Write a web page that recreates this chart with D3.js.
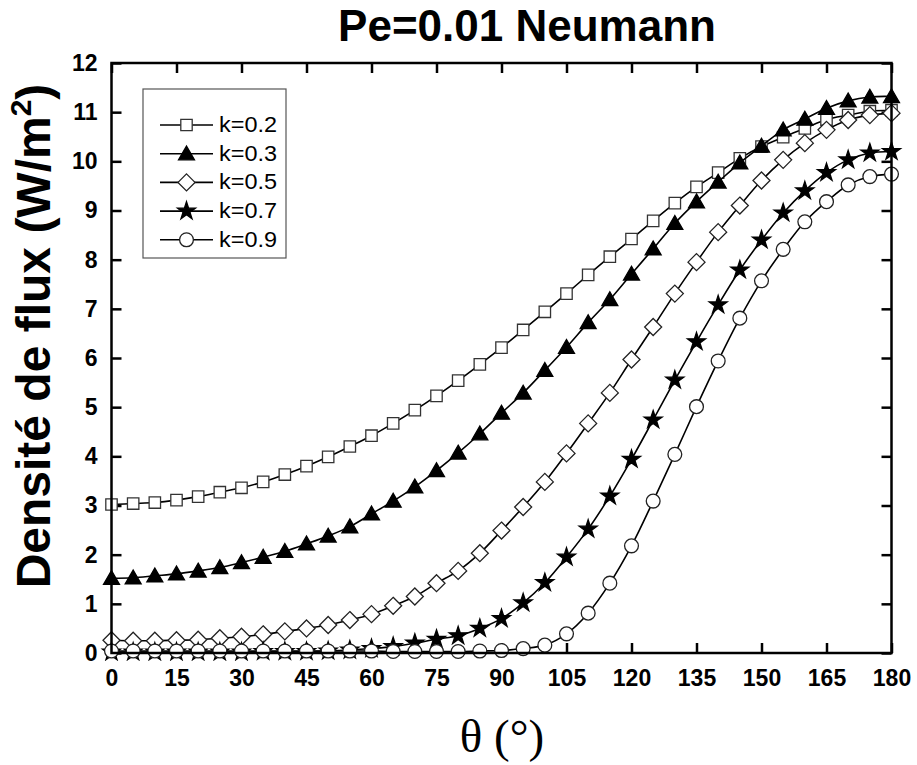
<!DOCTYPE html>
<html><head><meta charset="utf-8">
<script src="https://cdn.jsdelivr.net/npm/d3@7/dist/d3.min.js"></script>
<style>body{margin:0;background:#fff}svg{display:block}</style>
</head><body>
<script>
const theta = d3.range(0, 181, 5);
const k02 = [3.02,3.04,3.06,3.11,3.18,3.27,3.36,3.48,3.63,3.80,3.99,4.20,4.42,4.67,4.94,5.23,5.54,5.87,6.21,6.57,6.94,7.31,7.69,8.06,8.42,8.79,9.15,9.48,9.77,10.06,10.30,10.49,10.67,10.85,10.94,11.02,11.04];
const k03 = [1.52,1.53,1.57,1.61,1.67,1.74,1.84,1.95,2.07,2.22,2.38,2.57,2.83,3.09,3.38,3.71,4.07,4.46,4.88,5.29,5.75,6.22,6.72,7.19,7.71,8.22,8.74,9.18,9.58,9.97,10.31,10.64,10.86,11.08,11.23,11.31,11.32];
const k05 = [0.26,0.25,0.25,0.26,0.27,0.30,0.33,0.38,0.44,0.50,0.57,0.67,0.79,0.96,1.15,1.42,1.67,2.03,2.49,2.97,3.48,4.06,4.67,5.29,5.97,6.63,7.31,7.95,8.56,9.10,9.61,10.03,10.37,10.64,10.84,10.94,10.98];
const k07 = [0.02,0.02,0.02,0.02,0.02,0.02,0.02,0.03,0.03,0.03,0.04,0.06,0.09,0.13,0.20,0.28,0.35,0.50,0.70,1.02,1.43,1.95,2.52,3.19,3.94,4.74,5.55,6.33,7.08,7.79,8.40,8.95,9.40,9.77,10.03,10.17,10.20];
const k09 = [0.04,0.04,0.04,0.04,0.04,0.04,0.04,0.04,0.04,0.04,0.04,0.04,0.04,0.03,0.03,0.03,0.03,0.04,0.05,0.09,0.16,0.39,0.81,1.42,2.18,3.09,4.04,5.01,5.94,6.81,7.57,8.21,8.77,9.18,9.52,9.69,9.74];
const seriesNames = ["k=0.2","k=0.3","k=0.5","k=0.7","k=0.9"];
const seriesValues = [k02,k03,k05,k07,k09];
const xTicks = d3.range(0, 181, 15);
const yTicks = d3.range(0, 13, 1);

const W = 917, H = 765;
const L = 111.5, R = 891.5, T = 63, B = 653;
const svg = d3.select("body").append("svg").attr("width", W).attr("height", H);
const x = d3.scaleLinear().domain([0,180]).range([L,R]);
const y = d3.scaleLinear().domain([0,12]).range([B,T]);

const tick = 10;
const axB = d3.axisBottom(x).tickValues(xTicks).tickSizeInner(-tick).tickSizeOuter(0).tickPadding(17);
const axT = d3.axisTop(x).tickValues(xTicks).tickSizeInner(-tick).tickSizeOuter(0).tickFormat("");
const axL = d3.axisLeft(y).tickValues(yTicks).tickSizeInner(-tick).tickSizeOuter(0).tickPadding(14);
const axR = d3.axisRight(y).tickValues(yTicks).tickSizeInner(-tick).tickSizeOuter(0).tickFormat("");
function styleAx(g){
  g.select(".domain").remove();
  g.selectAll(".tick line").attr("stroke","#000").attr("stroke-width",2.5);
  g.selectAll(".tick text").attr("font-family","Liberation Sans, Arial, sans-serif").attr("font-weight","bold").attr("font-size",23).attr("fill","#000");
}
svg.append("g").attr("transform",`translate(0,${B})`).call(axB).call(styleAx);
svg.append("g").attr("transform",`translate(0,${T})`).call(axT).call(styleAx);
svg.append("g").attr("transform",`translate(${L},0)`).call(axL).call(styleAx);
svg.append("g").attr("transform",`translate(${R},0)`).call(axR).call(styleAx);

svg.append("defs").append("clipPath").attr("id","c").append("rect")
  .attr("x",L-12).attr("y",T).attr("width",R-L+24).attr("height",B-T+8);

const line = d3.line().x((d,i)=>x(theta[i])).y(d=>y(d)).curve(d3.curveCatmullRom.alpha(0.5));

const sq = d3.symbol().type(d3.symbolSquare).size(130)();
const tri = d3.symbol().type(d3.symbolTriangle).size(110)();
const dia = "M0,-8.5L8.5,0L0,8.5L-8.5,0Z";
const star = d3.symbol().type(d3.symbolStar).size(100)();
const circ = d3.symbol().type(d3.symbolCircle).size(150)();
const markers = [
  {p:sq, fill:"#fff", stroke:"#333"},
  {p:tri, fill:"#000", stroke:"#000", dy:1.5},
  {p:dia, fill:"#fff", stroke:"#222"},
  {p:star, fill:"#000", stroke:"#000"},
  {p:circ, fill:"#fff", stroke:"#222"}
];

const plot = svg.append("g").attr("clip-path","url(#c)");
seriesValues.forEach((vals, s) => {
  const g = plot.append("g");
  g.append("path").attr("d", line(vals)).attr("fill","none").attr("stroke","#000").attr("stroke-width",1.6);
  g.selectAll("path.m").data(vals).join("path").attr("class","m")
    .attr("d", markers[s].p)
    .attr("transform",(d,i)=>`translate(${x(theta[i])},${y(d)+(markers[s].dy||0)})`)
    .attr("fill",markers[s].fill).attr("stroke",markers[s].stroke).attr("stroke-width",1.3);
});

svg.append("rect").attr("x",L).attr("y",T).attr("width",R-L).attr("height",B-T)
  .attr("fill","none").attr("stroke","#000").attr("stroke-width",2.5);

// legend
const lg = svg.append("g");
lg.append("rect").attr("x",143).attr("y",89).attr("width",143).attr("height",169)
  .attr("fill","#fff").attr("stroke","#555").attr("stroke-width",1.2);
seriesNames.forEach((n,s)=>{
  const yy = 125 + s*28.7;
  lg.append("line").attr("x1",160).attr("x2",213).attr("y1",yy).attr("y2",yy).attr("stroke","#000").attr("stroke-width",1.6);
  lg.append("path").attr("d",markers[s].p).attr("transform",`translate(186.5,${yy+(markers[s].dy||0)})`)
    .attr("fill",markers[s].fill).attr("stroke",markers[s].stroke).attr("stroke-width",1.3);
  lg.append("text").attr("x",219).attr("y",yy+7).text(n)
    .attr("font-family","Liberation Sans, Arial, sans-serif").attr("font-size",22).attr("fill","#000")
    .attr("textLength",58).attr("lengthAdjust","spacingAndGlyphs");
});

// title
svg.append("text").attr("x",527).attr("y",41).attr("text-anchor","middle")
  .attr("font-family","Liberation Sans, Arial, sans-serif").attr("font-weight","bold").attr("font-size",44)
  .text("Pe=0.01 Neumann");

// y label
const yl = svg.append("text").attr("transform","translate(50,336) rotate(-90)").attr("text-anchor","middle")
  .attr("font-family","Liberation Sans, Arial, sans-serif").attr("font-weight","bold").attr("font-size",48);
yl.append("tspan").text("Densité de flux (W/m");
yl.append("tspan").text("2").attr("font-size",30).attr("dy",-19);
yl.append("tspan").text(")").attr("dy",19);

// x label
svg.append("text").attr("x",502).attr("y",752).attr("text-anchor","middle")
  .attr("font-family","Liberation Serif, Times New Roman, serif").attr("font-size",47)
  .text("θ (°)");
</script>
</body></html>
